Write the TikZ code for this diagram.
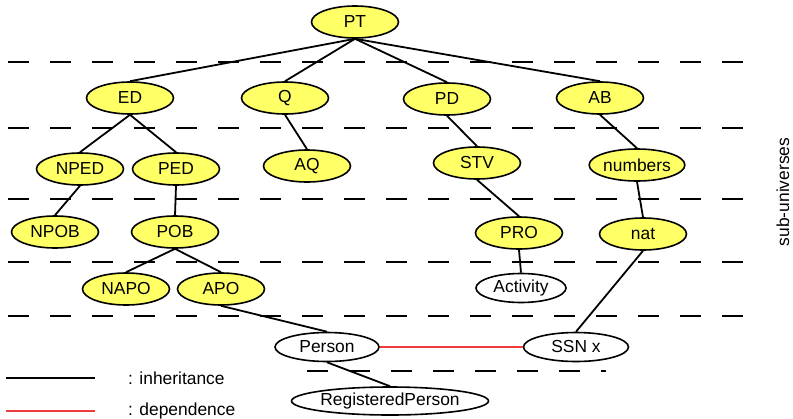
\documentclass[tikz,border=0pt]{standalone}
\usepackage{fontspec}
\setmainfont{Liberation Sans}
\usetikzlibrary{shapes.geometric}
\definecolor{uniyellow}{RGB}{255,255,102}
\definecolor{depred}{RGB}{240,60,60}

\begin{document}
\begin{tikzpicture}[x=1pt,y=-1pt]
        \tikzstyle{every node}+=[inner sep=0pt, font=\fontsize{17.4}{20}\selectfont]
        \tikzstyle{uni}=[ellipse, draw=black, line width=1.6pt, fill=uniyellow, minimum width=87pt, minimum height=32pt]
        \tikzstyle{obj}=[ellipse, draw=black, line width=1.6pt, fill=white, minimum height=29pt]
        \tikzstyle{level}=[black, line width=2pt, dash pattern=on 21pt off 21pt]
        \tikzstyle{inh}=[black, line width=1.8pt]
        \tikzstyle{dep}=[depred, line width=1.8pt]
        \useasboundingbox (0,0) rectangle (793,418);
        % levels
        \draw [level] (8,62) -- (747,62);
        \draw [level] (8,128) -- (747,128);
        \draw [level] (8,199) -- (747,199);
        \draw [level] (8,262) -- (747,262);
        \draw [level] (8,316) -- (747,316);
        \draw [level] (307,371) -- (606,371);
        % sub-universes
        \node [uni] (PT) at (355,22) {PT};
        \node [uni] (ED) at (130,98) {ED};
        \node [uni] (Q) at (285,98) {Q};
        \node [uni] (PD) at (447,99) {PD};
        \node [uni] (AB) at (600,98) {AB};
        \node [uni] (NPED) at (80,169) {NPED};
        \node [uni] (PED) at (176,169) {PED};
        \node [uni] (AQ) at (307,166) {AQ};
        \node [uni] (STV) at (477,163) {STV};
        \node [uni] (numbers) at (637,165) {numbers};
        \node [uni] (NPOB) at (55,232) {NPOB};
        \node [uni] (POB) at (175,232) {POB};
        \node [uni] (PRO) at (519,233) {PRO};
        \node [uni] (nat) at (643,234) {nat};
        \node [uni] (NAPO) at (126,289) {NAPO};
        \node [uni] (APO) at (221,289) {APO};
        % objects
        \node [obj, minimum width=90pt] (Activity) at (521,288) {Activity};
        \node [obj, minimum width=104pt] (Person) at (327,347) {Person};
        \node [obj, minimum width=105pt] (SSN) at (576,347) {SSN x};
        \node [obj, minimum width=175pt, minimum height=28pt] (RegPerson) at (390,401) {RegisteredPerson};
        % inheritance
        \draw [inh] (PT.south) -- (ED.north);
        \draw [inh] (PT.south) -- (Q.north);
        \draw [inh] (PT.south) -- (PD.north);
        \draw [inh] (PT.south) -- (AB.north);
        \draw [inh] (ED.south) -- (NPED.north);
        \draw [inh] (ED.south) -- (PED.north);
        \draw [inh] (Q.south) -- (AQ.north);
        \draw [inh] (PD.south) -- (STV.north);
        \draw [inh] (AB.south) -- (numbers.north);
        \draw [inh] (NPED.south) -- (NPOB.north);
        \draw [inh] (PED.south) -- (POB.north);
        \draw [inh] (STV.south) -- (PRO.north);
        \draw [inh] (numbers.south) -- (nat.north);
        \draw [inh] (POB.south) -- (NAPO.north);
        \draw [inh] (POB.south) -- (APO.north);
        \draw [inh] (PRO.south) -- (Activity.north);
        \draw [inh] (nat.south) -- (SSN.north);
        \draw [inh] (APO.south) -- (Person.north);
        \draw [inh] (Person.south) -- (RegPerson.north);
        % dependence
        \draw [dep] (Person.east) -- (SSN.west);
        % legend
        \coordinate (inhA) at (6,378);
        \coordinate (inhB) at (95,378);
        \coordinate (depA) at (6,411);
        \coordinate (depB) at (95,411);
        \draw [inh] (inhA) -- (inhB);
        \draw [dep] (depA) -- (depB);
        \node [anchor=west] (inhtext) at (128,378) {: inheritance};
        \node [anchor=west] (deptext) at (128,411) {: dependence};
        \node [rotate=90] (subu) at (783,192) {sub-universes};
    \end{tikzpicture}
\end{document}
